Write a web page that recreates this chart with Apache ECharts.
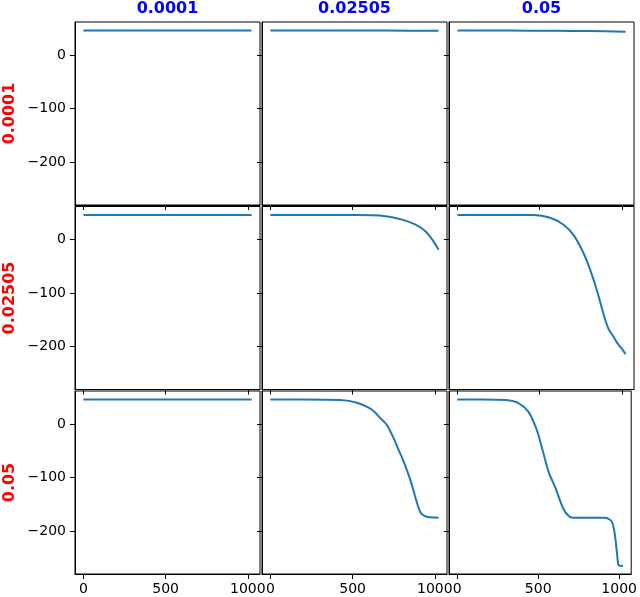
<!DOCTYPE html>
<html>
<head>
<meta charset="utf-8">
<script src="https://cdn.jsdelivr.net/npm/echarts@6/dist/echarts.min.js"></script>
<style>html,body{margin:0;padding:0;background:#fff}#c{width:640px;height:597px}</style>
</head>
<body>
<div id="c"></div>
<script>
// Column (top) and row (left) parameter labels
const colLabels = ['0.0001', '0.02505', '0.05'];
const rowLabels = ['0.0001', '0.02505', '0.05'];
const xTicks = [0, 500, 1000];
const yTicks = [0, -100, -200];

// Curves, row-major: r{row}c{col}
const r1c1_x = [0, 300, 700, 1023];
const r1c1_y = [46, 46, 46, 46];
const r1c2_x = [0, 300, 700, 1023];
const r1c2_y = [46, 46, 46, 45.5];
const r1c3_x = [0, 300, 600, 800, 1023];
const r1c3_y = [46, 46, 45.5, 45, 44];

const r2c1_x = [0, 300, 700, 1023];
const r2c1_y = [46, 46, 46, 46];
const r2c2_x = [0, 300, 517, 700, 802, 883, 944, 985, 1023];
const r2c2_y = [46, 46, 46, 44, 37.5, 28, 15.5, 0, -19];
const r2c3_x = [0, 250, 464, 564, 645, 706, 767, 807, 848, 888, 918, 949, 970, 990, 1005, 1023];
const r2c3_y = [46, 46, 46, 41, 28, 9, -25, -56, -94, -138, -166, -181, -192, -200, -206, -214];

const r3c1_x = [0, 300, 700, 1023];
const r3c1_y = [46, 46, 46, 46];
const r3c2_x = [0, 200, 426, 527, 608, 640, 669, 690, 710, 751, 781, 812, 852, 882, 913, 940, 970, 1023];
const r3c2_y = [46, 46, 45, 40, 29, 21, 11, 5, -2, -27, -49, -71, -105, -137, -165, -172, -174, -175];
const r3c3_x = [0, 150, 300, 380, 440, 490, 530, 565, 605, 655, 690, 720, 800, 910, 945, 960, 973, 985, 994, 1000, 1023];
const r3c3_y = [46, 46, 45, 39, 23, -10, -52, -90, -118, -158, -172, -175, -175, -175, -179, -186, -206, -237, -262, -264, -265];

const curves = [
  [r1c1_x, r1c1_y], [r1c2_x, r1c2_y], [r1c3_x, r1c3_y],
  [r2c1_x, r2c1_y], [r2c2_x, r2c2_y], [r2c3_x, r2c3_y],
  [r3c1_x, r3c1_y], [r3c2_x, r3c2_y], [r3c3_x, r3c3_y]
];

const lefts = [75, 262, 449];
const tops = [22, 206.5, 391];
const W = 185, H = 183;
const font = 'DejaVu Sans';
const fmt = v => String(v).replace('-', '\u2212');

const grid = [], xAxis = [], yAxis = [], series = [];
for (let r = 0; r < 3; r++) {
  for (let c = 0; c < 3; c++) {
    const i = r * 3 + c;
    grid.push({left: lefts[c], top: tops[r], width: W, height: H, show: true,
      borderColor: '#000', borderWidth: 1, backgroundColor: 'transparent'});
    xAxis.push({type: 'value', gridIndex: i, min: -51.15, max: 1074.15,
      splitLine: {show: false},
      axisLine: {show: true, onZero: false, lineStyle: {color: '#000', width: 1}},
      axisTick: {show: true, customValues: xTicks, length: 5, lineStyle: {color: '#000', width: 1}},
      axisLabel: {show: r === 2, customValues: xTicks, formatter: fmt, color: '#000',
        fontSize: 14, fontFamily: font, margin: 8, hideOverlap: false}});
    yAxis.push({type: 'value', gridIndex: i, min: -280, max: 62,
      splitLine: {show: false},
      axisLine: {show: true, onZero: false, lineStyle: {color: '#000', width: 1}},
      axisTick: {show: true, customValues: yTicks, length: 5, lineStyle: {color: '#000', width: 1}},
      axisLabel: {show: c === 0, customValues: yTicks, formatter: fmt, color: '#000',
        fontSize: 14, fontFamily: font, margin: 9}});
    const [xs, ys] = curves[i];
    series.push({type: 'line', xAxisIndex: i, yAxisIndex: i,
      data: xs.map((x, k) => [x, ys[k]]),
      showSymbol: false, smooth: 0.3,
      lineStyle: {color: '#1f77b4', width: 2}, itemStyle: {color: '#1f77b4'},
      animation: false, silent: true});
  }
}

const graphic = [];
for (let c = 0; c < 3; c++) {
  graphic.push({type: 'text', x: lefts[c] + W / 2, y: 9,
    style: {text: colLabels[c], fill: '#0000ff', font: 'bold 16px "DejaVu Sans"',
      textAlign: 'center', textVerticalAlign: 'middle'}});
}
for (let r = 0; r < 3; r++) {
  graphic.push({type: 'text', x: 10, y: tops[r] + H / 2, rotation: Math.PI / 2,
    style: {text: rowLabels[r], fill: '#ff0000', font: 'bold 16px "DejaVu Sans"',
      textAlign: 'center', textVerticalAlign: 'middle'}});
}

const chart = echarts.init(document.getElementById('c'), null, {renderer: 'canvas'});
chart.setOption({animation: false, backgroundColor: '#fff', grid, xAxis, yAxis, series, graphic});
</script>
</body>
</html>
